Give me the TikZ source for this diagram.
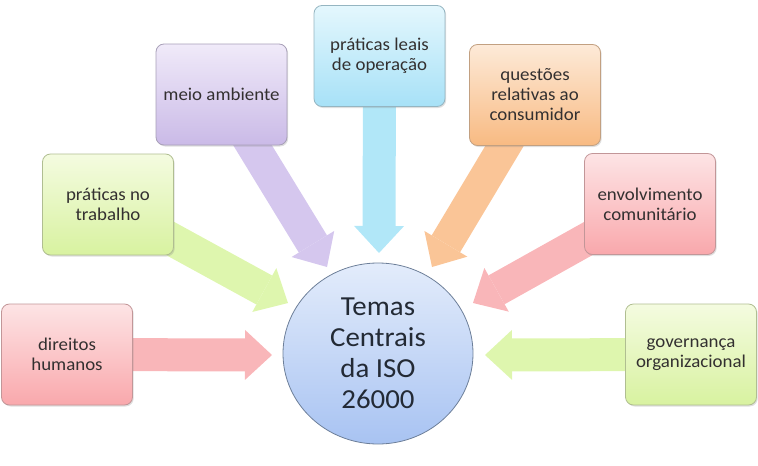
\documentclass[tikz,border=0pt]{standalone}
\usepackage{fontspec}
\setmainfont{Carlito}[FakeStretch=1.05]
\usetikzlibrary{arrows.meta,shadows,shapes.geometric}
\pgfdeclarelayer{bg}
\pgfsetlayers{bg,main}
\definecolor{pinkT}{HTML}{FDE4E5}
\definecolor{pinkB}{HTML}{F9A8AC}
\definecolor{pinkA}{HTML}{F9B6B9}
\definecolor{greenT}{HTML}{F4FBE0}
\definecolor{greenB}{HTML}{D8F2A0}
\definecolor{greenA}{HTML}{DEF6AE}
\definecolor{purpleT}{HTML}{F0EAF9}
\definecolor{purpleB}{HTML}{CABAE7}
\definecolor{purpleA}{HTML}{D5C7EE}
\definecolor{cyanT}{HTML}{E4F7FD}
\definecolor{cyanB}{HTML}{A7E1F7}
\definecolor{cyanA}{HTML}{B1E7F8}
\definecolor{orangeT}{HTML}{FDEAD8}
\definecolor{orangeB}{HTML}{F8BA82}
\definecolor{orangeA}{HTML}{FAC597}
\definecolor{circT}{HTML}{E3ECFB}
\definecolor{circB}{HTML}{A8C3F2}
\definecolor{circD}{HTML}{6D7F99}
\definecolor{txt}{HTML}{333030}
\definecolor{ctxt}{HTML}{232A35}
\begin{document}
\begin{tikzpicture}[x=1pt,y=1pt,
  box/.style={rounded corners=8pt, minimum width=131pt, minimum height=101pt,
    inner sep=0pt, align=center, font=\fontsize{18}{20}\selectfont, text=txt,
    draw=#1B!55!gray, line width=0.8pt, top color=#1T, bottom color=#1B,
    drop shadow={shadow xshift=1.2pt, shadow yshift=-1.5pt, opacity=0.25}},
  arr/.style={line width=33pt, draw=#1,
    -{Triangle[width=50pt,length=27pt,line width=0pt]}}
]
\useasboundingbox (0,0) rectangle (758,-466);
\node[box=pink]   (dh)  at (67,-354.5)  {direitos\\humanos};
\node[box=green]  (pt)  at (108,-204.5) {práticas no\\trabalho};
\node[box=purple] (ma)  at (221.5,-94.5) {meio ambiente};
\node[box=cyan]   (pl)  at (379.5,-56)  {práticas leais\\de operação};
\node[box=orange] (qr)  at (535,-95)    {questões\\relativas ao\\consumidor};
\node[box=pink]   (ec)  at (650,-204)   {envolvimento\\comunitário};
\node[box=green]  (go)  at (691,-354.5) {governança\\organizacional};
\node[ellipse, minimum width=190pt, minimum height=181pt, inner sep=0pt,
  top color=circT, bottom color=circB, draw=circD, line width=0.8pt,
  align=center, text=ctxt, font=\fontsize{27.5}{31}\selectfont]
  (c) at (378,-353.5) {Temas\\Centrais\\da ISO\\26000};
\coordinate (tdh) at (272,-355);
\coordinate (tpt) at (288,-303);
\coordinate (tma) at (327,-267);
\coordinate (tpl) at (379,-253);
\coordinate (tqr) at (432,-267);
\coordinate (tec) at (473,-303);
\coordinate (tgo) at (485,-355);
\begin{pgfonlayer}{bg}
\draw[arr=pinkA]   (dh.center) -- (tdh);
\draw[arr=greenA]  (pt.center) -- (tpt);
\draw[arr=purpleA] (ma.center) -- (tma);
\draw[arr=cyanA]   (pl.center) -- (tpl);
\draw[arr=orangeA] (qr.center) -- (tqr);
\draw[arr=pinkA]   (ec.center) -- (tec);
\draw[arr=greenA]  (go.center) -- (tgo);
\end{pgfonlayer}
\end{tikzpicture}
\end{document}
